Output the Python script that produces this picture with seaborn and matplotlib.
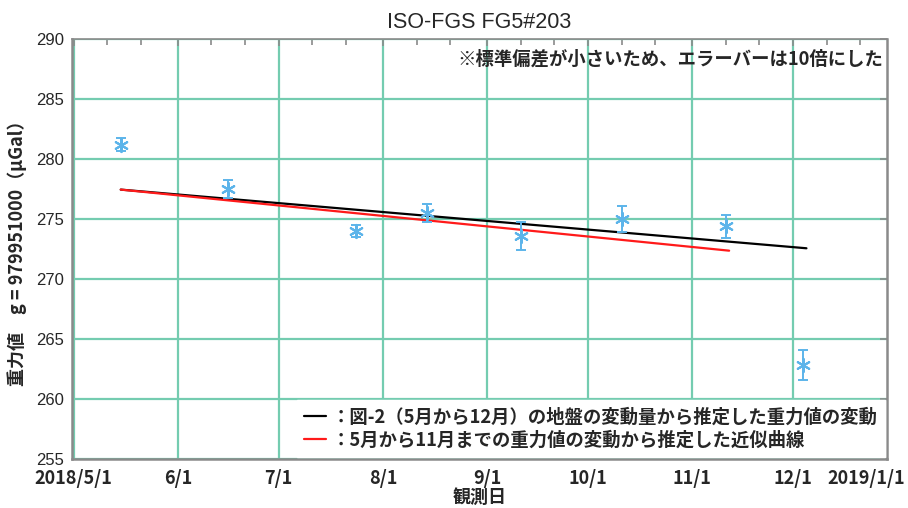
import numpy as np
import pandas as pd
import matplotlib
matplotlib.use("Agg")
import matplotlib.pyplot as plt
import matplotlib.dates as mdates
from matplotlib.ticker import MultipleLocator
import seaborn as sns

# measured gravity values (offset from g = 979951000 uGal)
obs_dates = ["2018-05-15", "2018-06-16", "2018-07-24", "2018-08-14",
             "2018-09-11", "2018-10-11", "2018-11-11", "2018-12-04"]
obs_values = [281.2, 277.5, 274.0, 275.5, 273.6, 275.0, 274.4, 262.8]
obs_err10 = [0.55, 0.72, 0.53, 0.75, 1.18, 1.1, 0.97, 1.25]  # std x10

# estimated trend lines
black_dates = ["2018-05-15", "2018-12-05"]
black_values = [277.45, 272.56]
red_dates = ["2018-05-15", "2018-11-12"]
red_values = [277.45, 272.36]

month_ticks = ["2018-05-01", "2018-06-01", "2018-07-01", "2018-08-01",
               "2018-09-01", "2018-10-01", "2018-11-01", "2018-12-01"]
month_labels = ["2018/5/1", "6/1", "7/1", "8/1", "9/1", "10/1", "11/1", "12/1"]

label_black = "：図-2（5月から12月）の地盤の変動量から推定した重力値の変動"
label_red = "：5月から11月までの重力値の変動から推定した近似曲線"
note = "※標準偏差が小さいため、エラーバーは10倍にした"

sns.set_style("white")
plt.rcParams['font.family'] = ['Noto Sans CJK JP', 'DejaVu Sans']

obs = pd.DataFrame({"date": pd.to_datetime(obs_dates), "value": obs_values, "err": obs_err10})
black = pd.DataFrame({"date": pd.to_datetime(black_dates), "value": black_values})
red = pd.DataFrame({"date": pd.to_datetime(red_dates), "value": red_values})

fig = plt.figure(figsize=(9.08, 5.08), dpi=100)
ax = fig.add_axes([0.0793, 0.0965, 0.8977, 0.8267])

grid_c = "#74ccb0"
ax.set_xticks(pd.to_datetime(month_ticks))
ax.set_xticklabels(month_labels)
ax.xaxis.set_minor_locator(mdates.DayLocator(bymonthday=[11, 21]))
ax.yaxis.set_major_locator(MultipleLocator(5))
ax.grid(True, which="major", color=grid_c, lw=1.6, zorder=0)
ax.set_axisbelow(True)

sns.lineplot(data=black, x="date", y="value", color="black", lw=1.6, ax=ax, label=label_black)
sns.lineplot(data=red, x="date", y="value", color="#ff1a1a", lw=1.6, ax=ax, label=label_red)

blue = "#5cb4ea"
ax.errorbar(obs["date"], obs["value"], yerr=obs["err"], fmt="none", ecolor=blue,
            elinewidth=1.4, capsize=3.5, capthick=1.4, zorder=4)
sns.scatterplot(data=obs, x="date", y="value", marker=(6, 2, 0), s=90,
                color=blue, linewidth=1.5, ax=ax, zorder=5, legend=False)

ax.set_xlim(pd.Timestamp("2018-04-30 12:00"), pd.Timestamp("2018-12-29"))
ax.set_ylim(255, 290)

for s in ax.spines.values():
    s.set_color("#8a8a8a")
    s.set_linewidth(1.8)
ax.spines["top"].set_linewidth(1.2)
ax.tick_params(which="both", direction="in", top=True, right=True, color="#8a8a8a")
ax.tick_params(which="major", length=5, width=1.2)
ax.tick_params(which="minor", length=4, width=1.2)
ax.tick_params(axis="x", pad=7)
ax.tick_params(axis="y", pad=6)

for t in ax.get_yticklabels():
    t.set_fontfamily("Liberation Sans")
    t.set_fontsize(12)
for t in ax.get_xticklabels():
    t.set_fontweight("bold")
    t.set_fontsize(13)

ax.annotate("2019/1/1", xy=(1, 0), xycoords="axes fraction", xytext=(13, -7),
            textcoords="offset points", ha="right", va="top",
            fontsize=13, fontweight="bold")

ax.set_title("ISO-FGS FG5#203", fontsize=15.5, fontfamily="Liberation Sans", pad=8)
ax.set_xlabel("観測日", fontsize=13, fontweight="bold", labelpad=0)
ax.set_ylabel("重力値　g = 979951000（μGal）", fontsize=13, fontweight="bold", labelpad=6)

ax.text(0.995, 0.975, note, transform=ax.transAxes, ha="right", va="top",
        fontsize=13.2, fontweight="bold")

leg = ax.legend(loc="lower right", bbox_to_anchor=(1.0, 0.0), frameon=True,
                fancybox=False, edgecolor="white", facecolor="white", framealpha=1,
                prop={"weight": "bold", "size": 13.2}, handlelength=1.2,
                handletextpad=0.3, borderaxespad=0.1, labelspacing=0.25)

fig.savefig("out.png", dpi=100)
